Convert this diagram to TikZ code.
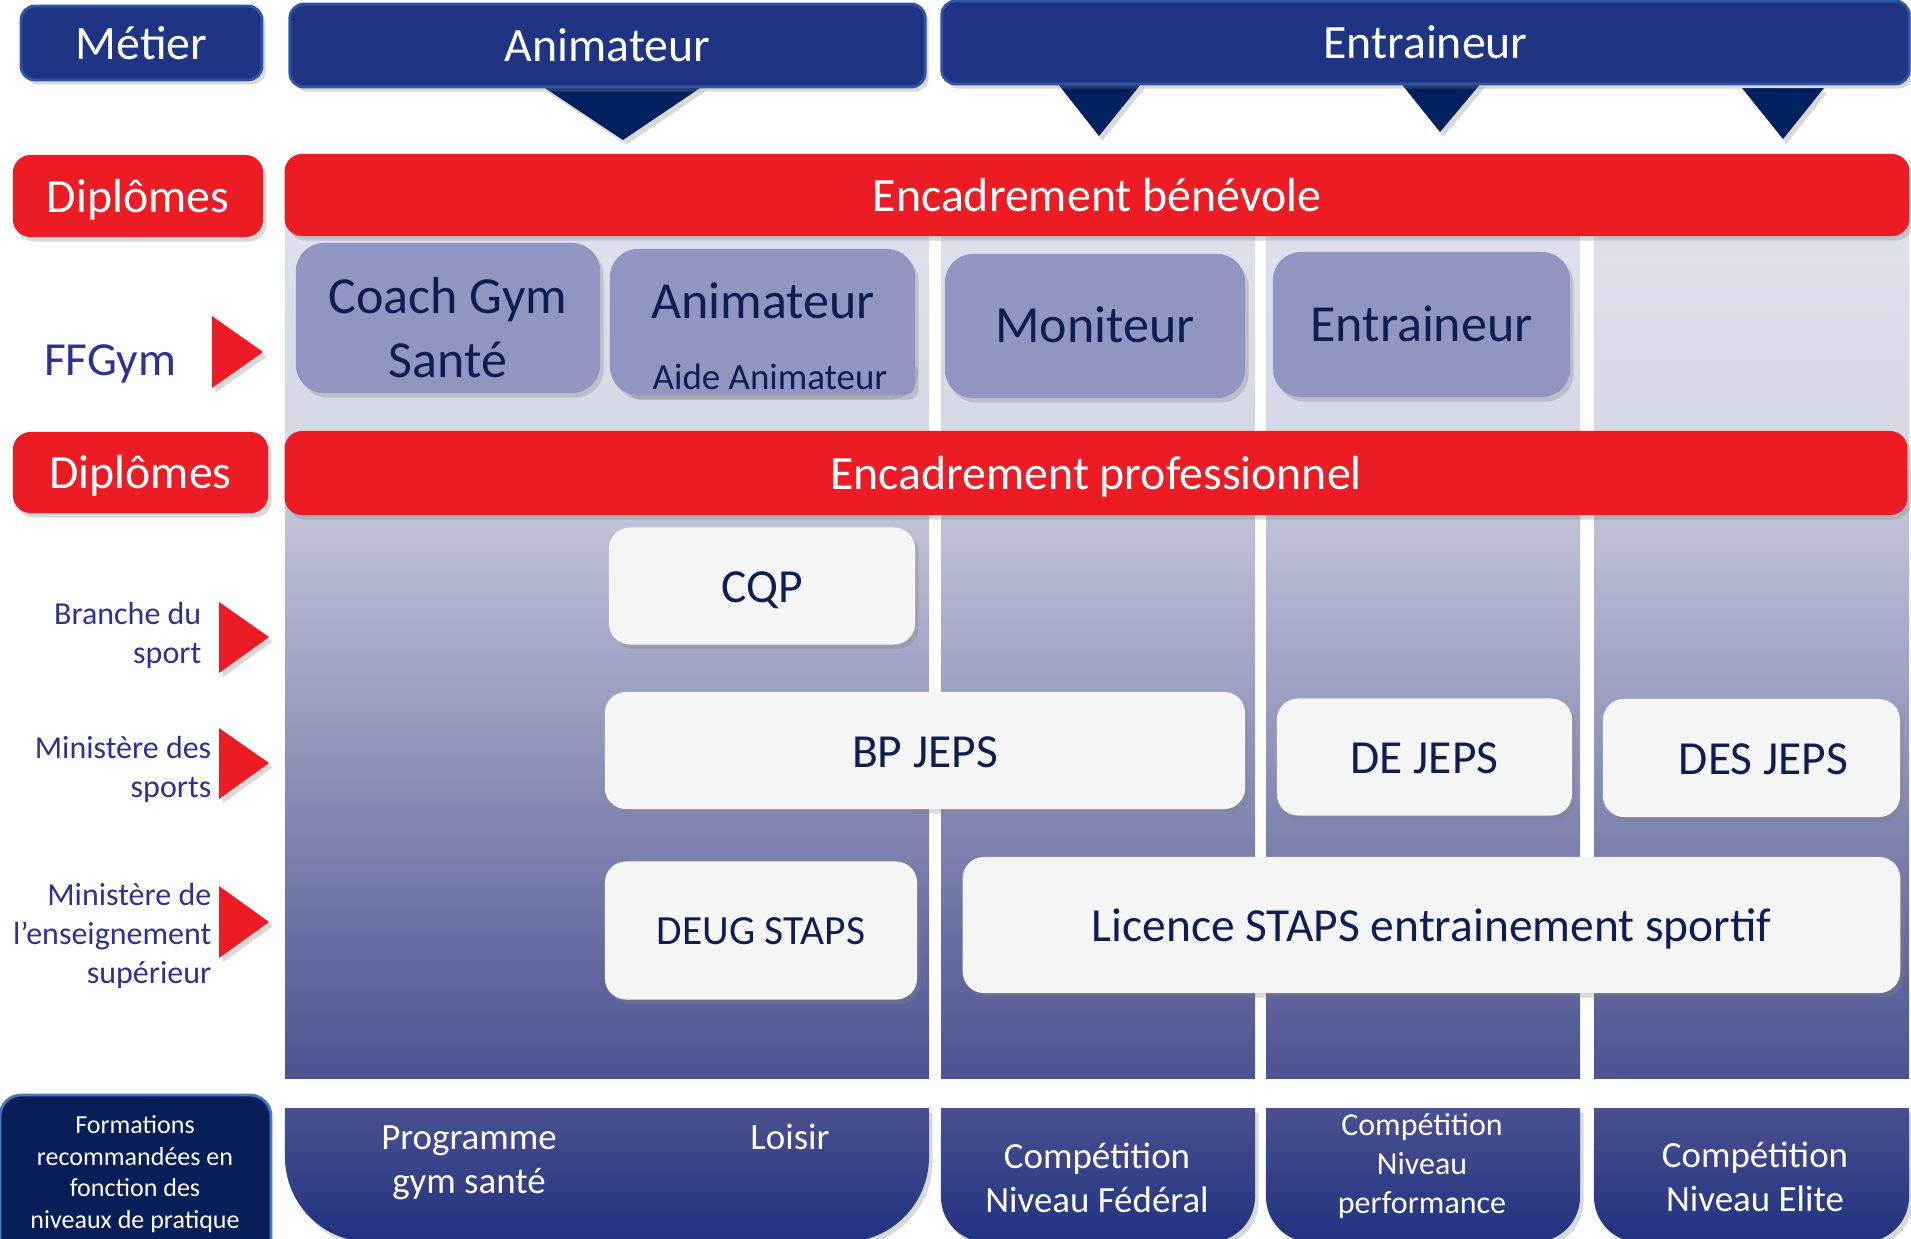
\documentclass[tikz,border=0pt]{standalone}
\usepackage{fontspec}
\setmainfont{Carlito}
\usetikzlibrary{shadows,positioning}
\definecolor{bleumetier}{RGB}{31,53,132}
\definecolor{bordmetier}{RGB}{47,85,165}
\definecolor{pointe}{RGB}{0,32,96}
\definecolor{rouge}{RGB}{237,28,36}
\definecolor{lavande}{RGB}{145,149,193}
\definecolor{encre}{RGB}{14,30,84}
\definecolor{bleutexte}{RGB}{46,49,146}
\definecolor{blanccasse}{RGB}{245,245,245}
\definecolor{colhaut}{RGB}{223,225,237}
\definecolor{colmilieu}{RGB}{212,214,228}
\definecolor{colpro}{RGB}{201,203,221}
\definecolor{colbas}{RGB}{76,83,145}
\definecolor{piedhaut}{RGB}{74,80,143}
\definecolor{piedbas}{RGB}{33,50,128}
\definecolor{marine}{RGB}{8,30,88}
\definecolor{bordmarine}{RGB}{70,120,190}
\newcommand{\taille}[2]{\fontsize{#1}{#2}\selectfont}

\begin{document}
\begin{tikzpicture}[x=0.01cm,y=-0.01cm,
  ombre/.style={drop shadow={opacity=.3,shadow xshift=1pt,shadow yshift=-1.3pt}},
  metier node/.style={rectangle,rounded corners=4pt,fill=bleumetier,draw=bordmetier,line width=.8pt,text=white,font=\taille{13.6}{16},inner sep=0pt,text height=9.1pt,text depth=0pt,ombre},
  diplome node/.style={rectangle,rounded corners=5pt,fill=rouge,text=white,font=\taille{13.6}{16},inner sep=0pt,text height=9.1pt,text depth=0pt,ombre},
  ff node/.style={rectangle,rounded corners=8pt,fill=lavande,text=encre,font=\taille{14.8}{18.2},inner sep=0pt,text height=9.4pt,text depth=0pt,ombre},
  ff text/.style={text=encre,font=\taille{14.8}{18.2},align=center,inner sep=0pt},
  aide node/.style={rectangle,rounded corners=3pt,fill=lavande,text=encre,font=\taille{10.5}{12.5},inner sep=0pt,ombre},
  cert node/.style={rectangle,rounded corners=6pt,fill=blanccasse,text=encre,font=\taille{13.5}{16},inner sep=0pt,text height=9.4pt,text depth=0pt,ombre},
  source/.style={text=bleutexte,font=\taille{9.1}{11.1},align=right,anchor=east,inner sep=0pt},
  niveau/.style={text=white,font=\taille{10.5}{12.5},align=center,inner sep=0pt},
  fleche/.style={fill=rouge,ombre},
  tri/.style={fill=pointe,ombre}]
\useasboundingbox (0,0) rectangle (1911,1239);

% colonnes
\shade[top color=colhaut,bottom color=colmilieu] (285,200) rectangle (929,470);
\shade[top color=colpro,bottom color=colbas] (285,470) rectangle (929,1078);
\shade[top color=colhaut,bottom color=colmilieu] (941,200) rectangle (1255,470);
\shade[top color=colpro,bottom color=colbas] (941,470) rectangle (1255,1078);
\shade[top color=colhaut,bottom color=colmilieu] (1266,200) rectangle (1580,470);
\shade[top color=colpro,bottom color=colbas] (1266,470) rectangle (1580,1078);
\shade[top color=colhaut,bottom color=colmilieu] (1594,200) rectangle (1909,470);
\shade[top color=colpro,bottom color=colbas] (1594,470) rectangle (1909,1078);

% metiers
\fill[tri] (542,86) -- (703,86) -- (623,140) -- cycle;
\fill[tri] (1058,84) -- (1141,84) -- (1099,136) -- cycle;
\fill[tri] (1400,82) -- (1482,82) -- (1440,132) -- cycle;
\fill[tri] (1742,88) -- (1824,88) -- (1783,139) -- cycle;
\node[metier node,minimum width=2.41cm,minimum height=0.74cm] (metier) at (141.5,43) {Métier};
\node[metier node,minimum width=6.35cm,minimum height=0.83cm] (animateur) at (607.5,45.5) {Animateur};
\node[metier node,minimum width=9.67cm,minimum height=0.83cm] (entraineur) at (1425.5,42.5) {Entraineur};

% diplomes
\node[diplome node,minimum width=2.5cm,minimum height=0.82cm] (dipl1) at (138,196) {Diplômes};
\node[diplome node,minimum width=16.24cm,minimum height=0.82cm] (benevole) at (1097,195) {Encadrement bénévole};
\node[diplome node,minimum width=2.55cm,minimum height=0.81cm] (dipl2) at (140.5,472.5) {Diplômes};
\node[diplome node,minimum width=16.22cm,minimum height=0.84cm] (pro) at (1096,473) {Encadrement professionnel};

% FFGym
\node[text=bleutexte,font=\taille{13.5}{16}] (ffgym) at (110,364) {FFGym};
\fill[fleche] (212,316) -- (263,352) -- (212,388) -- cycle;
\node[ff node,minimum width=3.04cm,minimum height=1.5cm] (coach) at (448,318) {};
\node[ff text] (coachtxt) at (448,328) {Coach Gym\\Santé};
\node[ff node,minimum width=3.05cm,minimum height=1.46cm] (ffanim) at (762.5,322) {};
\node[ff text] (ffanimtxt) at (763,301) {Animateur};
\node[aide node,minimum width=2.9cm,minimum height=0.37cm] (aide) at (770,376.5) {Aide Animateur};
\node[ff node,minimum width=3cm,minimum height=1.44cm] (moniteur) at (1095,326) {Moniteur};
\node[ff node,minimum width=2.97cm,minimum height=1.45cm] (ffentr) at (1421.5,324.5) {Entraineur};

% branche, ministeres
\node[source] (branche) at (202,635) {Branche du\\sport};
\fill[fleche] (219,602) -- (269,637) -- (219,673) -- cycle;
\node[source] (minsport) at (212,769) {Ministère des\\sports};
\fill[fleche] (219,728) -- (269,763) -- (219,799) -- cycle;
\node[source] (minsup) at (212,936) {Ministère de\\l’enseignement\\supérieur};
\fill[fleche] (219,886) -- (269,922) -- (219,958) -- cycle;

\node[cert node,minimum width=3.06cm,minimum height=1.17cm] (cqp) at (762,586) {CQP};
\node[cert node,minimum width=6.4cm,minimum height=1.17cm] (bpjeps) at (925,750.5) {BP JEPS};
\node[cert node,minimum width=2.95cm,minimum height=1.17cm] (dejeps) at (1424.5,757) {DE JEPS};
\node[cert node,minimum width=2.97cm,minimum height=1.18cm] (desjeps) at (1751.5,758) {\hspace*{0.24cm}DES JEPS};
\node[cert node,minimum width=3.12cm,minimum height=1.38cm,font=\taille{11.8}{14},text height=8.2pt] (deug) at (761,930.5) {DEUG STAPS};
\node[cert node,minimum width=9.37cm,minimum height=1.36cm] (licence) at (1431.5,925) {Licence STAPS entrainement sportif};

% niveaux de pratique
\filldraw[fill=marine,draw=bordmarine,line width=.8pt,rounded corners=6pt] (0,1260) -- (0,1095) -- (271,1095) -- (271,1260);
\node[text=white,font=\taille{7.4}{9},align=center] (formations) at (135,1174) {Formations\\recommandées en\\fonction des\\niveaux de pratique};
\shade[top color=piedhaut,bottom color=piedbas,ombre] (285,1108) -- (929,1108) -- (929,1157) arc[start angle=0,end angle=-90,radius=0.85cm] -- (370,1242) arc[start angle=-90,end angle=-180,radius=0.85cm] -- cycle;
\shade[top color=piedhaut,bottom color=piedbas,ombre] (941,1108) -- (1255,1108) -- (1255,1197) arc[start angle=0,end angle=-90,radius=0.45cm] -- (986,1242) arc[start angle=-90,end angle=-180,radius=0.45cm] -- cycle;
\shade[top color=piedhaut,bottom color=piedbas,ombre] (1266,1108) -- (1580,1108) -- (1580,1197) arc[start angle=0,end angle=-90,radius=0.45cm] -- (1311,1242) arc[start angle=-90,end angle=-180,radius=0.45cm] -- cycle;
\shade[top color=piedhaut,bottom color=piedbas,ombre] (1594,1108) -- (1909,1108) -- (1909,1197) arc[start angle=0,end angle=-90,radius=0.45cm] -- (1639,1242) arc[start angle=-90,end angle=-180,radius=0.45cm] -- cycle;
\node[niveau] (programme) at (469,1163) {Programme\\gym santé};
\node[niveau] (loisir) at (790,1137) {Loisir};
\node[niveau] (federal) at (1097,1178) {Compétition\\Niveau Fédéral};
\node[niveau,font=\taille{9.1}{11.1}] (performance) at (1422,1166) {Compétition\\Niveau\\performance};
\node[niveau] (elite) at (1755,1177) {Compétition\\Niveau Elite};
\end{tikzpicture}
\end{document}
